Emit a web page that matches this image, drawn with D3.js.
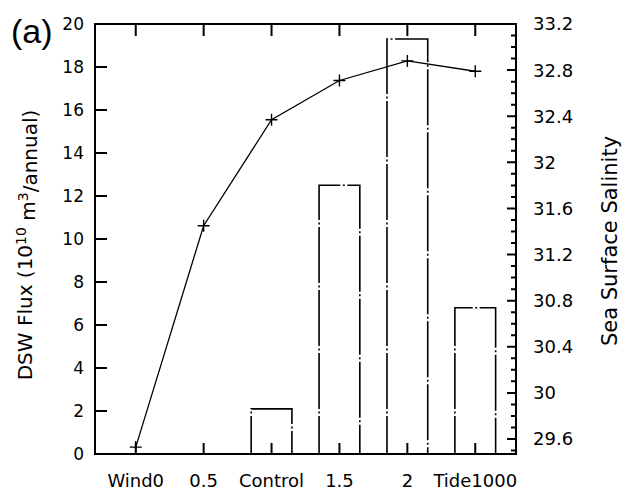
<!DOCTYPE html>
<html>
<head>
<meta charset="utf-8">
<script src="https://cdn.jsdelivr.net/npm/d3@7"></script>
<style>
  html, body { margin: 0; padding: 0; background: #fff; }
  svg { display: block; }
  text { font-family: "DejaVu Sans", sans-serif; fill: #000; }
</style>
</head>
<body>
<div id="chart"></div>
<script>
/* ── Data ──────────────────────────────────────────────────────────────── */
const categories = ['Wind0', '0.5', 'Control', '1.5', '2', 'Tide1000'];
const dswFlux    = [0, 0, 2.1, 12.5, 19.3, 6.8];          // 10^10 m^3/annual (bars)
const salinity   = [29.53, 31.45, 32.37, 32.71, 32.88, 32.79]; // line
const fluxTicks  = [0, 2, 4, 6, 8, 10, 12, 14, 16, 18, 20];
const salTicks   = [29.6, 30, 30.4, 30.8, 31.2, 31.6, 32, 32.4, 32.8, 33.2];
const salMinor   = d3.range(295, 333).map(v => v / 10);

/* ── Layout ────────────────────────────────────────────────────────────── */
const W = 622, H = 495;
const margin = { top: 24, right: 106, bottom: 41, left: 95 };
const plotW = W - margin.left - margin.right;
const plotH = H - margin.top - margin.bottom;

const svg = d3.select('#chart').append('svg')
  .attr('width', W).attr('height', H);
const g = svg.append('g')
  .attr('transform', `translate(${margin.left},${margin.top})`);

/* ── Scales ────────────────────────────────────────────────────────────── */
const x = d3.scalePoint().domain(categories).range([0, plotW]).padding(0.6);
const yL = d3.scaleLinear().domain([0, 20]).range([plotH, 0]);
const yR = d3.scaleLinear().domain([29.47, 33.2]).range([plotH, 0]);
const barW = x.step() * 0.6;

/* ── Bars (dash-dot outline, open at the bottom) ──────────────────────── */
g.selectAll('.bar')
  .data(categories.map((c, i) => ({ c, v: dswFlux[i] })).filter(d => d.v > 0))
  .join('path')
    .attr('class', 'bar')
    .attr('d', d => {
      const x0 = x(d.c) - barW / 2, x1 = x(d.c) + barW / 2;
      return `M${x0},${plotH}V${yL(d.v)}H${x1}V${plotH}`;
    })
    .attr('fill', 'none')
    .attr('stroke', '#000')
    .attr('stroke-width', 1.6)
    .attr('stroke-dasharray', '56,2.5,2,2.5')
    .attr('stroke-dashoffset', 18);

/* ── Salinity line ─────────────────────────────────────────────────────── */
const pts = categories.map((c, i) => [x(c), yR(salinity[i])]);
g.append('path')
  .attr('d', d3.line()(pts))
  .attr('fill', 'none')
  .attr('stroke', '#000')
  .attr('stroke-width', 1.3);

g.selectAll('.mark')
  .data(pts)
  .join('path')
    .attr('class', 'mark')
    .attr('d', p => `M${p[0] - 6},${p[1]}H${p[0] + 6}M${p[0]},${p[1] - 6}V${p[1] + 6}`)
    .attr('stroke', '#000')
    .attr('stroke-width', 1.4);

/* ── Tick labels ───────────────────────────────────────────────────────── */
g.selectAll('.ltick')
  .data(fluxTicks)
  .join('text')
    .attr('class', 'ltick')
    .attr('x', -11)
    .attr('y', d => yL(d))
    .attr('dy', '0.36em')
    .attr('text-anchor', 'end')
    .style('font-size', '17px')
    .text(d => d);

g.selectAll('.rtick')
  .data(salTicks)
  .join('text')
    .attr('class', 'rtick')
    .attr('x', plotW + 17)
    .attr('y', d => yR(d))
    .attr('dy', '0.36em')
    .style('font-size', '18px')
    .text(d => d);

g.selectAll('.xtick')
  .data(categories)
  .join('text')
    .attr('class', 'xtick')
    .attr('x', d => x(d))
    .attr('y', plotH + 33)
    .attr('text-anchor', 'middle')
    .style('font-size', '18px')
    .text(d => d);

/* ── Frame with inward ticks, one path ─────────────────────────────────── */
const frame = d3.path();
frame.rect(0, 0, plotW, plotH);
fluxTicks.forEach(v => { frame.moveTo(0, yL(v)); frame.lineTo(12, yL(v)); });
salMinor.forEach(v => { frame.moveTo(plotW, yR(v)); frame.lineTo(plotW - 5, yR(v)); });
salTicks.forEach(v => { frame.moveTo(plotW, yR(v)); frame.lineTo(plotW - 9, yR(v)); });
categories.forEach(c => {
  frame.moveTo(x(c), 0); frame.lineTo(x(c), 12);
  frame.moveTo(x(c), plotH); frame.lineTo(x(c), plotH - 11);
});
g.append('path')
  .attr('d', frame.toString())
  .attr('fill', 'none')
  .attr('stroke', '#000')
  .attr('stroke-width', 2);

/* ── Titles ────────────────────────────────────────────────────────────── */
const yl = svg.append('text')
  .attr('transform', 'translate(32,245) rotate(-90)')
  .attr('text-anchor', 'middle')
  .style('font-size', '20px');
yl.append('tspan').text('DSW Flux (10');
yl.append('tspan').attr('dy', '-0.45em').style('font-size', '14px').text('10');
yl.append('tspan').attr('dy', '0.45em').text(' m');
yl.append('tspan').attr('dy', '-0.45em').style('font-size', '14px').text('3');
yl.append('tspan').attr('dy', '0.45em').text('/annual)');

svg.append('text')
  .attr('transform', 'translate(617,241) rotate(-90)')
  .attr('text-anchor', 'middle')
  .style('font-size', '21px')
  .text('Sea Surface Salinity');

svg.append('text')
  .attr('x', 11).attr('y', 43)
  .style('font-family', '"Liberation Sans", Arial, sans-serif')
  .style('font-size', '34px')
  .text('(a)');
</script>
</body>
</html>
